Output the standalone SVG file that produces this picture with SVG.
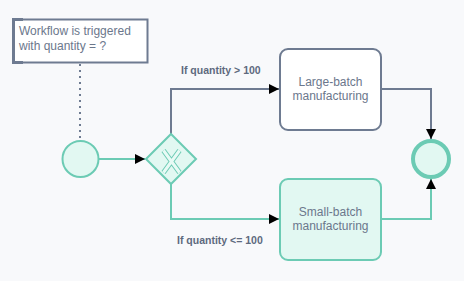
<svg xmlns="http://www.w3.org/2000/svg" width="464" height="281" viewBox="0 0 464 281">
<style>
  .txt{font-family:"Liberation Sans",Arial,sans-serif;font-size:12px;fill:#6b778c}
  .lbl{font-family:"Liberation Sans",Arial,sans-serif;font-size:10.5px;font-weight:bold;fill:#5e6a7e}
  .gray{stroke:#6e7b91;stroke-width:2;fill:none}
  .teal{stroke:#6ccbb4;stroke-width:2;fill:none}
</style>
<defs>
  <marker id="arr" markerWidth="10" markerHeight="10" refX="10" refY="5" orient="auto" markerUnits="userSpaceOnUse">
    <path d="M0,0 L10,5 L0,10 Z" fill="#000"/>
  </marker>
</defs>
<rect width="464" height="281" fill="#f8f9fb"/>
<g id="connectors">
  <line x1="80" y1="64" x2="80" y2="140" stroke="#6e7b91" stroke-width="2" stroke-dasharray="2,4"/>
  <path class="teal" d="M99,159 L145,159" marker-end="url(#arr)"/>
  <path class="gray" d="M171,134 L171,89 L279,89" marker-end="url(#arr)"/>
  <path class="teal" d="M171,184 L171,219 L279,219" marker-end="url(#arr)"/>
  <path class="gray" d="M381,89 L431,89 L431,139" marker-end="url(#arr)"/>
  <path class="teal" d="M381,219 L431,219 L431,179" marker-end="url(#arr)"/>
  <text class="lbl" x="181" y="74">If quantity &gt; 100</text>
  <text class="lbl" x="177" y="243.5">If quantity &lt;= 100</text>
</g>
<g id="annotation">
  <rect x="13.5" y="19.5" width="134" height="43" fill="#ffffff" stroke="#6e7b91" stroke-width="2"/>
  <path d="M23,19.5 L13.5,19.5 L13.5,62.5 L23,62.5" fill="none" stroke="#6e7b91" stroke-width="3"/>
  <text class="txt" x="19" y="35">Workflow is triggered</text>
  <text class="txt" x="19" y="50">with quantity = ?</text>
</g>
<g id="start">
  <circle cx="80.5" cy="159" r="18" fill="#e2f8f2" stroke="#6ccbb4" stroke-width="2"/>
</g>
<g id="gateway">
  <path d="M171,134 L196,159 L171,184 L146,159 Z" fill="#e2f8f2" stroke="#6ccbb4" stroke-width="2"/>
  <path d="M163.5,150.5 L179.5,172.5 M179.5,150.5 L163.5,172.5" stroke="#6ccbb4" stroke-width="5" fill="none"/>
  <path d="M163.5,150.5 L179.5,172.5 M179.5,150.5 L163.5,172.5" stroke="#e8faf5" stroke-width="3" fill="none"/>
</g>
<g id="large">
  <rect x="280" y="49" width="101" height="81" rx="8" fill="#ffffff" stroke="#6e7b91" stroke-width="2"/>
  <text class="txt" x="330.5" y="86" text-anchor="middle">Large-batch</text>
  <text class="txt" x="330.5" y="100" text-anchor="middle">manufacturing</text>
</g>
<g id="small">
  <rect x="280" y="179" width="101" height="81" rx="8" fill="#e2f8f2" stroke="#6ccbb4" stroke-width="2"/>
  <text class="txt" x="330.5" y="216" text-anchor="middle">Small-batch</text>
  <text class="txt" x="330.5" y="230" text-anchor="middle">manufacturing</text>
</g>
<g id="end">
  <circle cx="431" cy="159" r="18" fill="#e2f8f2" stroke="#6ccbb4" stroke-width="4"/>
</g>
</svg>
